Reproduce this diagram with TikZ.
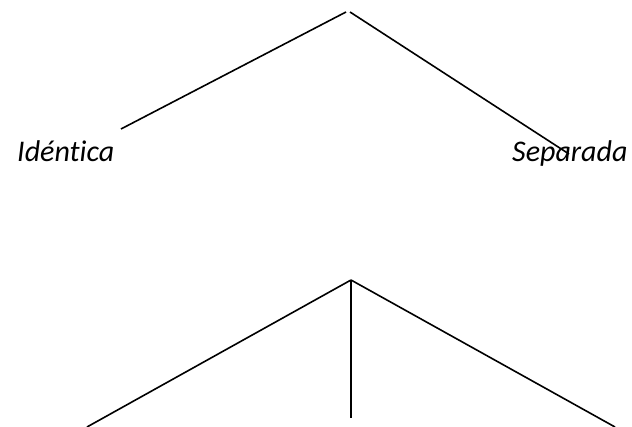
\documentclass[tikz,border=0pt]{standalone}
\usepackage{fontspec}
\setmainfont[Ligatures={NoCommon}]{Carlito}
\begin{document}
\begin{tikzpicture}[x=1pt,y=-1pt,
  ln/.style={line width=1.6pt,black},
  lbl/.style={inner sep=0pt,anchor=base west,font=\fontsize{30}{34}\selectfont\itshape}]
\useasboundingbox (0,0) rectangle (632,427);
\coordinate (t1) at (346,12);
\coordinate (t2) at (350,12);
\coordinate (tl) at (121,129);
\coordinate (tr) at (569,154);
\node[lbl] (ident) at (17,162) {Idéntica};
\node[lbl] (sep) at (512,162) {Separada};
\draw[ln] (t1) -- (tl);
\draw[ln] (t2) -- (tr);
\coordinate (b) at (351,280);
\coordinate (bl) at (87,427);
\coordinate (bm) at (351,418);
\coordinate (br) at (615,427);
\draw[ln] (b) -- (bl);
\draw[ln] (b) -- (bm);
\draw[ln] (b) -- (br);
\end{tikzpicture}
\end{document}
